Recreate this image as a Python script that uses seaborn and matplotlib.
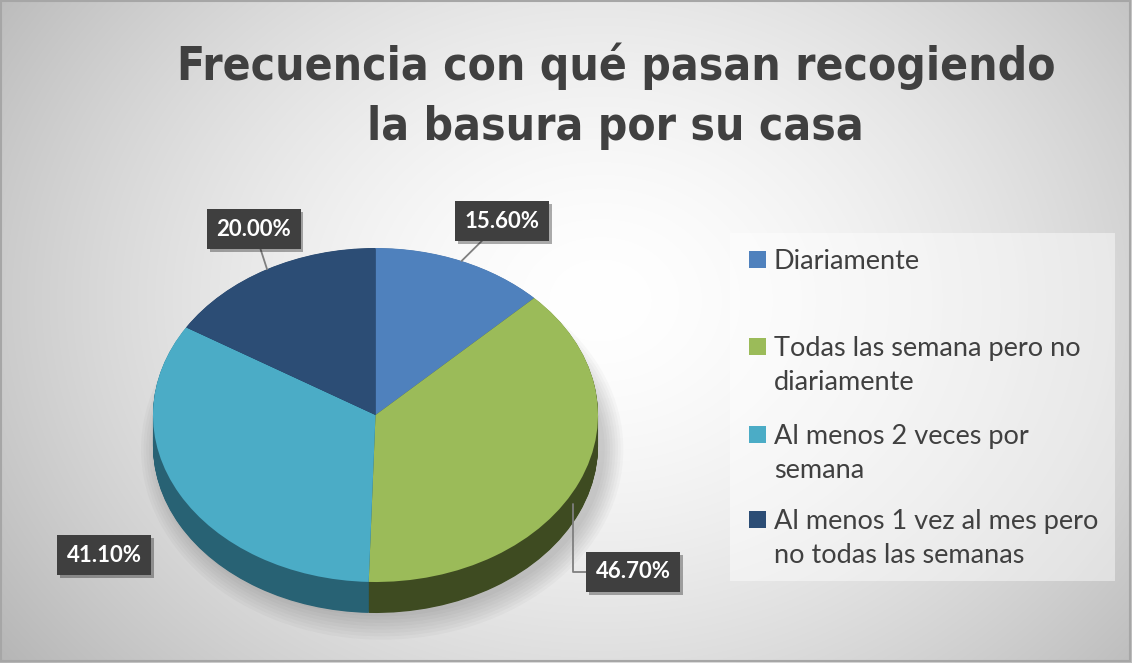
import textwrap
import numpy as np
import matplotlib
matplotlib.use("Agg")
import matplotlib.pyplot as plt
import seaborn as sns
from matplotlib.patches import Rectangle, Ellipse
import matplotlib.patheffects as pe

# ---------------- data ----------------
categories = [
    "Diariamente",
    "Todas las semana pero no diariamente",
    "Al menos 2 veces por semana",
    "Al menos 1 vez al mes pero no todas las semanas",
]
values = [15.60, 46.70, 41.10, 20.00]
value_labels = ["15.60%", "46.70%", "41.10%", "20.00%"]
title_lines = ["Frecuencia con qué pasan recogiendo", "la basura por su casa"]

# ---------------- style ----------------
colors = ["#4f81bd", "#9bbb59", "#4bacc6", "#2c4d75"]
side_colors = ["#2b4768", "#3e4b21", "#286274", "#1c3150"]
text_color = "#404040"

sns.set_theme(style="white")
plt.rcParams["font.family"] = ["Lato", "DejaVu Sans"]

W, H = 1132, 663
fig = plt.figure(figsize=(W / 100, H / 100), dpi=100)

# background radial gradient
bg = fig.add_axes([0, 0, 1, 1])
bg.set_axis_off()
yy, xx = np.mgrid[0:H, 0:W]
r = np.sqrt(((xx - 600) / (W * 0.62)) ** 2 + ((yy - 300) / (H * 0.85)) ** 2)
g = np.clip(1 - 0.26 * np.clip(r, 0, 1.3) ** 1.6, 0, 1)
bg.imshow(np.dstack([g, g, g]), extent=[0, W, H, 0], aspect="auto", interpolation="bilinear")
bg.set_xlim(0, W)
bg.set_ylim(H, 0)
bg.add_patch(Rectangle((1, 1), W - 3, H - 3, fill=False, ec="#a6a6a6", lw=1.5))
# legend background
bg.add_patch(Rectangle((730, 233), 385, 348, fc="white", ec="none", alpha=0.45))

# ---------------- pie (tilted) ----------------
CX, CY, RX, RY = 375.5, 415.0, 222.5, 167.0
DEPTH = 31.0 / RY

def to_data(px, py):
    return ((px - CX) / RX, (CY - py) / RY)

ax = fig.add_axes([0, 0, 1, 1], zorder=2)
ax.set_facecolor("none")

# soft shadow
for k in range(8):
    ax.add_patch(Ellipse((0.03, -DEPTH - 0.02), 2 * (1.0 + 0.012 * k), 2 * (1.0 + 0.02 * k),
                         fc="black", ec="none", alpha=0.025, zorder=0))

for d in np.linspace(DEPTH, 0.002, 45):
    ax.pie(values, colors=side_colors, startangle=90, counterclock=False,
           center=(0, -d), radius=1, wedgeprops=dict(linewidth=0))
wedges, _ = ax.pie(values, colors=colors, startangle=90, counterclock=False,
                   center=(0, 0), radius=1, wedgeprops=dict(linewidth=0))

ax.set_aspect("auto")
ax.set_xlim(-CX / RX, (W - CX) / RX)
ax.set_ylim((CY - H) / RY, CY / RY)
ax.set_axis_off()

# ---------------- data labels ----------------
label_pos_px = [(502, 221), (633, 572), (104, 555), (254, 229)]
leader_style = ["arc3", "angle,angleA=0,angleB=90,rad=0", None, "arc3"]
leader_drop = [0.0, 0.7, 0.0, 0.0]
total = sum(values)
start = 90.0
for i, (v, lab) in enumerate(zip(values, value_labels)):
    span = v / total * 360.0
    mid = np.deg2rad(start - span / 2)
    start -= span
    xy = (np.cos(mid) * (0.97 if leader_drop[i] else 1.0),
          np.sin(mid) - DEPTH * leader_drop[i])
    tx, ty = to_data(*label_pos_px[i])
    bbox = dict(boxstyle="square,pad=0.42", fc="#3f3f3f", ec="none")
    if leader_style[i] is not None:
        t = ax.annotate(lab, xy=xy, xytext=(tx, ty), ha="center", va="center",
                        fontsize=16, fontweight="bold", color="white", bbox=bbox,
                        arrowprops=dict(arrowstyle="-", color="#7f7f7f", lw=1.3,
                                        shrinkA=0, shrinkB=0,
                                        connectionstyle=leader_style[i]), zorder=5)
    else:
        t = ax.text(tx, ty, lab, ha="center", va="center", fontsize=16,
                    fontweight="bold", color="white", bbox=bbox, zorder=5)
    t.get_bbox_patch().set_path_effects(
        [pe.SimplePatchShadow(offset=(2, -2), alpha=0.35), pe.Normal()])

# ---------------- title ----------------
fig.canvas.draw()
renderer = fig.canvas.get_renderer()
tfont = dict(family=["DejaVu Sans"], fontstretch="condensed", fontweight="bold")
t1 = fig.text(616 / W, 1 - 66 / H, title_lines[0], ha="center", va="center",
              fontsize=40, color=text_color, **tfont)
w1 = t1.get_window_extent(renderer).width
fs = 40 * 877 / w1
t1.set_fontsize(fs)
t2 = fig.text(615 / W, 1 - 127 / H, title_lines[1], ha="center", va="center",
              fontsize=fs, color=text_color, **tfont)

# ---------------- legend ----------------
sq_tops = [251, 338, 426, 511]
for c, cat, top in zip(colors, categories, sq_tops):
    fig.patches.append(Rectangle((749 / W, 1 - (top + 17) / H), 17 / W, 17 / H,
                                 transform=fig.transFigure, fc=c, ec="none", zorder=3))
    fig.text(774 / W, 1 - (top - 2) / H, textwrap.fill(cat, 26), ha="left", va="top",
             fontsize=19.5, color=text_color, linespacing=1.45, zorder=3)

fig.savefig("out.png", dpi=100)
